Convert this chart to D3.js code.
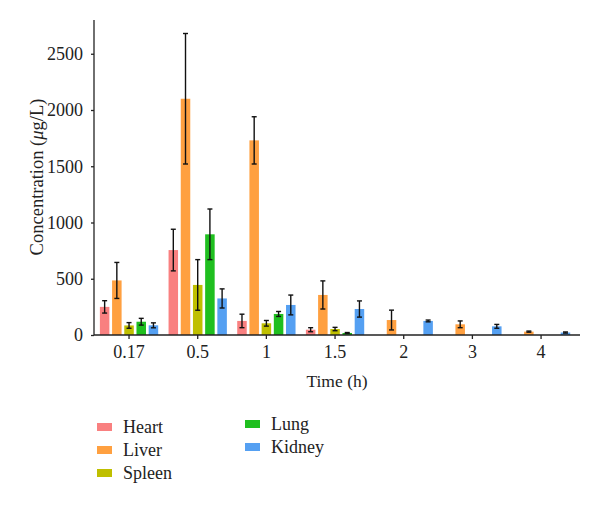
<!DOCTYPE html>
<html><head><meta charset="utf-8">
<script src="https://cdn.jsdelivr.net/npm/d3@7"></script>
<style>body{margin:0;background:#fff}svg{display:block}</style>
</head><body>
<script>
const times = ["0.17","0.5","1","1.5","2","3","4"];
const organs = ["Heart","Liver","Spleen","Lung","Kidney"];
const colors = ["#f98080","#ffa040","#bfbf00","#1fbf1f","#55a0f2"];
const heart  = [250, 755, 125, 47, null, null, null];
const liver  = [485, 2100, 1730, 356, 133, 95, 30];
const spleen = [85, 445, 104, 53, null, null, null];
const lung   = [118, 895, 187, 18, null, null, null];
const kidney = [86, 325, 267, 231, 125, 77, 22];
const heartErr  = [55, 185, 60, 18, null, null, null];
const liverErr  = [160, 580, 210, 125, 88, 30, 5];
const spleenErr = [25, 225, 25, 15, null, null, null];
const lungErr   = [30, 225, 22, 4, null, null, null];
const kidneyErr = [22, 85, 88, 72, 8, 17, 5];
const yTicks = [0, 500, 1000, 1500, 2000, 2500];

const series = [heart, liver, spleen, lung, kidney];
const errs = [heartErr, liverErr, spleenErr, lungErr, kidneyErr];

const W = 600, H = 506;
const svg = d3.select("body").append("svg").attr("width", W).attr("height", H);
const font = "'Liberation Serif', 'Times New Roman', serif";

const x0 = d3.scaleBand().domain(times).range([94.7, 575.4]).paddingInner(0).paddingOuter(0);
const x1 = d3.scaleBand().domain(organs).range([-30.5, 30.5]).paddingInner(0.22).paddingOuter(0.11);
const y = d3.scaleLinear().domain([0, 2800]).range([335, 20]);

const data = [];
series.forEach((s, i) => s.forEach((v, j) => {
  if (v != null) data.push({t: times[j], o: organs[i], c: colors[i], v, e: errs[i][j]});
}));

const g = svg.append("g");
g.selectAll("rect.bar").data(data).enter().append("rect")
  .attr("x", d => x0(d.t) + x0.bandwidth()/2 + x1(d.o))
  .attr("width", x1.bandwidth())
  .attr("y", d => y(d.v))
  .attr("height", d => y(0) - y(d.v))
  .attr("fill", d => d.c);

const eb = g.selectAll("g.err").data(data).enter().append("g")
  .attr("transform", d => `translate(${x0(d.t) + x0.bandwidth()/2 + x1(d.o) + x1.bandwidth()/2},0)`)
  .attr("stroke", "#111").attr("stroke-width", 1.4);
eb.append("line").attr("x1",0).attr("x2",0).attr("y1", d => y(d.v + d.e)).attr("y2", d => y(Math.max(0, d.v - d.e)));
eb.append("line").attr("x1",-2.5).attr("x2",2.5).attr("y1", d => y(d.v + d.e)).attr("y2", d => y(d.v + d.e));
eb.append("line").attr("x1",-2.5).attr("x2",2.5).attr("y1", d => y(Math.max(0, d.v - d.e))).attr("y2", d => y(Math.max(0, d.v - d.e)));

// y axis
const ya = svg.append("g").attr("transform", "translate(94,0)")
  .call(d3.axisLeft(y).tickValues(yTicks).tickFormat(d3.format("d")).tickSize(3).tickSizeOuter(0).tickPadding(8));
ya.select(".domain").attr("d", `M0,${y(0)}V20`);
// x axis
const xa = svg.append("g").attr("transform", `translate(0,${y(0)})`)
  .call(d3.axisBottom(x0).tickSize(4).tickSizeOuter(0).tickPadding(6));
xa.select(".domain").attr("d", "M94,0H580");
[ya, xa].forEach(a => {
  a.attr("font-size", null).attr("font-family", null);
  a.selectAll("path,line").attr("stroke", "#222").attr("stroke-width", 1.3);
  a.selectAll("text").style("font-family", font).style("font-size", "18px").attr("fill", "#222");
});

// titles
svg.append("text").attr("transform", "translate(37,177) rotate(-90)").attr("dy", "0.35em")
  .attr("text-anchor", "middle").style("font-family", font).style("font-size", "18.5px").attr("fill", "#222")
  .call(t => {
    t.append("tspan").text("Concentration (");
    t.append("tspan").attr("font-style", "italic").text("μ");
    t.append("tspan").text("g/L)");
  });
svg.append("text").attr("x", 337).attr("y", 387).attr("text-anchor", "middle")
  .style("font-family", font).style("font-size", "17.5px").attr("fill", "#222").text("Time (h)");

// legend
const legPos = [[97, 427],[97, 450],[97, 473],[245, 424],[245, 447]];
const leg = svg.append("g").selectAll("g").data(organs).enter().append("g")
  .attr("transform", (d, i) => `translate(${legPos[i][0]},${legPos[i][1]})`);
leg.append("rect").attr("x", 0).attr("y", -4).attr("width", 15).attr("height", 8)
  .attr("fill", (d, i) => colors[i]);
leg.append("text").attr("x", 26).attr("y", 6).style("font-family", font).style("font-size", "18px")
  .attr("fill", "#222").text(d => d);
</script>
</body></html>
